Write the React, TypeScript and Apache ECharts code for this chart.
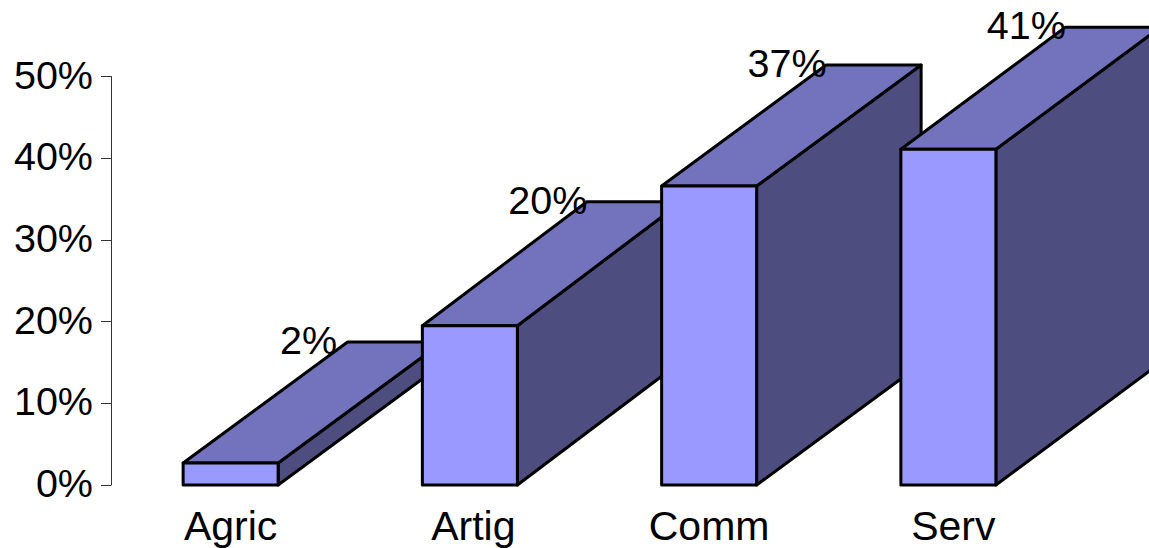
import React, { useEffect, useRef } from "react";
import * as echarts from "echarts";

const categories = ["Agric", "Artig", "Comm", "Serv"];
const values = [2.7, 19.5, 36.6, 41.1];
const valueLabels = ["2%", "20%", "37%", "41%"];
const FONT = "'Liberation Sans', Arial, sans-serif";
const FONT_SIZE = 39.5;
const CAT_FONT_SIZE = 41;
const BAR_W = 95;
const DX = 164.5;
const DY = [-121, -124, -121, -122];
const CAT_PAD = [0, 7, 0, 10];

function renderBar(params: any, api: any) {
  const i = api.value(0);
  const top = api.coord([i, api.value(1)]);
  const base = api.coord([i, 0]);
  const l = top[0] - BAR_W / 2;
  const r = top[0] + BAR_W / 2;
  const t = top[1];
  const b = base[1];
  const d = DY[i];
  const stroke = { stroke: "#000", lineWidth: 3, lineJoin: "round" };
  return {
    type: "group",
    children: [
      { type: "polygon", shape: { points: [[r, b], [r + DX, b + d], [r + DX, t + d], [r, t]] }, style: { fill: "#4D4D80", ...stroke } },
      { type: "polygon", shape: { points: [[l, t], [l + DX, t + d], [r + DX, t + d], [r, t]] }, style: { fill: "#7373BD", ...stroke } },
      { type: "polygon", shape: { points: [[l, b], [r, b], [r, t], [l, t]] }, style: { fill: "#9999FF", ...stroke } },
      {
        type: "text",
        x: l + DX - 39,
        y: t + d - 2,
        style: { text: valueLabels[i], fill: "#000", font: `${FONT_SIZE}px ${FONT}`, align: "center", verticalAlign: "middle" },
      },
    ],
  };
}

export default function App() {
  const ref = useRef<HTMLDivElement>(null);
  useEffect(() => {
    document.body.style.margin = "0";
    const chart = echarts.init(ref.current!, null, { renderer: "svg" });
    const rich: any = {};
    CAT_PAD.forEach((p, i) => {
      rich["c" + i] = { fontFamily: FONT, fontSize: CAT_FONT_SIZE, color: "#000", padding: [0, 0, 0, p] };
    });
    chart.setOption({
      animation: false,
      backgroundColor: "#fff",
      grid: { left: 111, top: 76.5, width: 957, height: 408.5 },
      xAxis: {
        type: "category",
        data: categories,
        axisLine: { show: false },
        axisTick: { show: false },
        axisLabel: {
          color: "#000",
          fontFamily: FONT,
          fontSize: CAT_FONT_SIZE,
          margin: 20,
          interval: 0,
          formatter: (v: string, i: number) => `{c${i}|${v}}`,
          rich,
        },
      },
      yAxis: {
        type: "value",
        min: 0,
        max: 50,
        interval: 10,
        splitLine: { show: false },
        axisLine: { show: true, lineStyle: { color: "#333", width: 1 } },
        axisTick: { show: true, length: 10, lineStyle: { color: "#333", width: 1 } },
        axisLabel: { color: "#000", fontFamily: FONT, fontSize: FONT_SIZE, margin: 18, verticalAlign: "bottom", lineHeight: 4, formatter: "{value}%" },
      },
      series: [
        {
          type: "custom",
          clip: false,
          renderItem: renderBar,
          encode: { x: 0, y: 1 },
          data: values.map((v, i) => [i, v]),
        },
      ],
    });
    return () => chart.dispose();
  }, []);
  return <div ref={ref} style={{ width: 1149, height: 548 }} />;
}
